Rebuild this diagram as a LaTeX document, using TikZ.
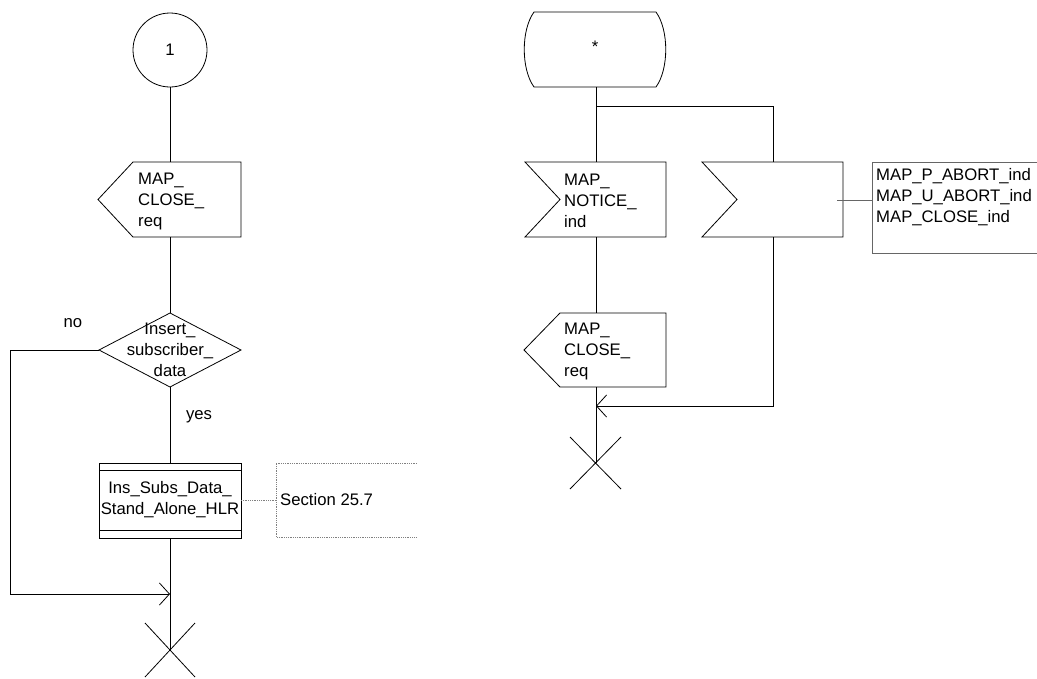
\documentclass[tikz,border=0pt]{standalone}
\usepackage{fontspec}
\setmainfont{Liberation Sans}
\usetikzlibrary{arrows.meta}
\tikzset{
  sym/.style={draw=black,line width=0.8pt},
  conn/.style={draw=black,line width=0.8pt},
  arr/.style={conn,-{Straight Barb[length=10pt,width=22pt,line width=0.8pt]}},
  txt/.style={inner sep=0pt,align=left,font=\fontsize{16.7}{21}\selectfont},
  ctxt/.style={inner sep=0pt,align=center,font=\fontsize{16.7}{21}\selectfont},
  cmt/.style={draw=gray!80!black,line width=0.8pt},
  cmtdot/.style={draw=gray,line width=0.8pt,densely dotted},
  xstop/.style={draw=black,line width=0.8pt}
}
\begin{document}
\begin{tikzpicture}[x=1pt,y=-1pt]
\useasboundingbox (0,0) rectangle (1037,678);
%%%%% left column
\node[circle,sym,minimum size=74pt,inner sep=0pt,font=\fontsize{16.7}{21}\selectfont] (c1) at (170,50) {1};
% output MAP_CLOSE_req
\draw[sym] (98,199.5) -- (133,162) -- (241,162) -- (241,237) -- (133,237) -- cycle;
\coordinate (o1n) at (170,162);
\coordinate (o1s) at (170,237);
\node[txt,anchor=west] (o1t) at (138,201) {MAP\_\\CLOSE\_\\req};
% decision
\draw[sym] (170,313) -- (241,350) -- (170,387) -- (99,350) -- cycle;
\coordinate (dn) at (170,313);
\coordinate (ds) at (170,387);
\coordinate (dw) at (99,350);
\node[ctxt] (dt) at (170,350) {Insert\_\\subscriber\_\\data};
\node[ctxt] (no) at (73,323) {no};
\node[ctxt] (yes) at (199,417) {yes};
% procedure
\draw[sym] (99,463) rectangle (241,538);
\draw[sym] (99,470) -- (241,470);
\draw[sym] (99,530) -- (241,530);
\coordinate (pn) at (170,463);
\coordinate (ps) at (170,538);
\coordinate (pe) at (241,500);
\node[ctxt] (pt) at (170,500) {Ins\_Subs\_Data\_\\Stand\_Alone\_HLR};
% comment
\draw[cmtdot] (417,463) -- (276,463) -- (276,537) -- (417,537);
\coordinate (cw) at (276,500);
\node[txt,anchor=west] (ct) at (280,500) {Section 25.7};
% merge and stop
\coordinate (m1) at (170,594);
\coordinate (x1) at (170,650);
\coordinate (nl) at (10,350);
\coordinate (nb) at (10,594);
% connectors
\draw[conn] (c1) -- (o1n);
\draw[conn] (o1s) -- (dn);
\draw[conn] (ds) -- (pn);
\draw[conn] (ps) -- (x1);
\draw[arr] (dw) -- (nl) -- (nb) -- (m1);
\draw[cmtdot] (pe) -- (cw);
\draw[xstop] (145,623) -- (195,677) (195,623) -- (145,677);
%%%%% right column
% state *
\draw[sym] (534,12) -- (656,12) .. controls (669,30) and (669,69) .. (656,87) -- (534,87) .. controls (521,69) and (521,30) .. (534,12) -- cycle;
\node[ctxt] (st) at (595,47) {*};
\coordinate (sts) at (596,87);
\coordinate (br) at (596,106);
% input MAP_NOTICE_ind
\draw[sym] (525,162) -- (666,162) -- (666,237) -- (525,237) -- (560,199.5) -- cycle;
\coordinate (i1n) at (596,162);
\coordinate (i1s) at (596,237);
\node[txt,anchor=west] (i1t) at (564,201) {MAP\_\\NOTICE\_\\ind};
% input 2
\draw[sym] (702,162) -- (843,162) -- (843,237) -- (702,237) -- (737,199.5) -- cycle;
\coordinate (i2n) at (773,162);
\coordinate (i2s) at (773,237);
\coordinate (i2e) at (837,200);
% comment box
\draw[cmt] (1040,162) -- (872,162) -- (872,253) -- (1040,253);
\coordinate (c2w) at (872,200);
\node[txt,anchor=west] (c2t) at (876,197) {MAP\_P\_ABORT\_ind\\MAP\_U\_ABORT\_ind\\MAP\_CLOSE\_ind};
% output MAP_CLOSE_req
\draw[sym] (524,350) -- (560,313) -- (666,313) -- (666,387) -- (560,387) -- cycle;
\coordinate (o2n) at (596,313);
\coordinate (o2s) at (596,387);
\node[txt,anchor=west] (o2t) at (564,351) {MAP\_\\CLOSE\_\\req};
\coordinate (m2) at (596,406);
\coordinate (m2r) at (773,406);
\coordinate (x2) at (596,463);
% connectors
\draw[conn] (sts) -- (i1n);
\draw[conn] (br) -| (i2n);
\draw[conn] (i1s) -- (o2n);
\draw[conn] (o2s) -- (x2);
\draw[arr] (i2s) -- (m2r) -- (m2);
\draw[cmt] (i2e) -- (c2w);
\draw[xstop] (570,437) -- (621,489) (621,437) -- (570,489);
\end{tikzpicture}
\end{document}
